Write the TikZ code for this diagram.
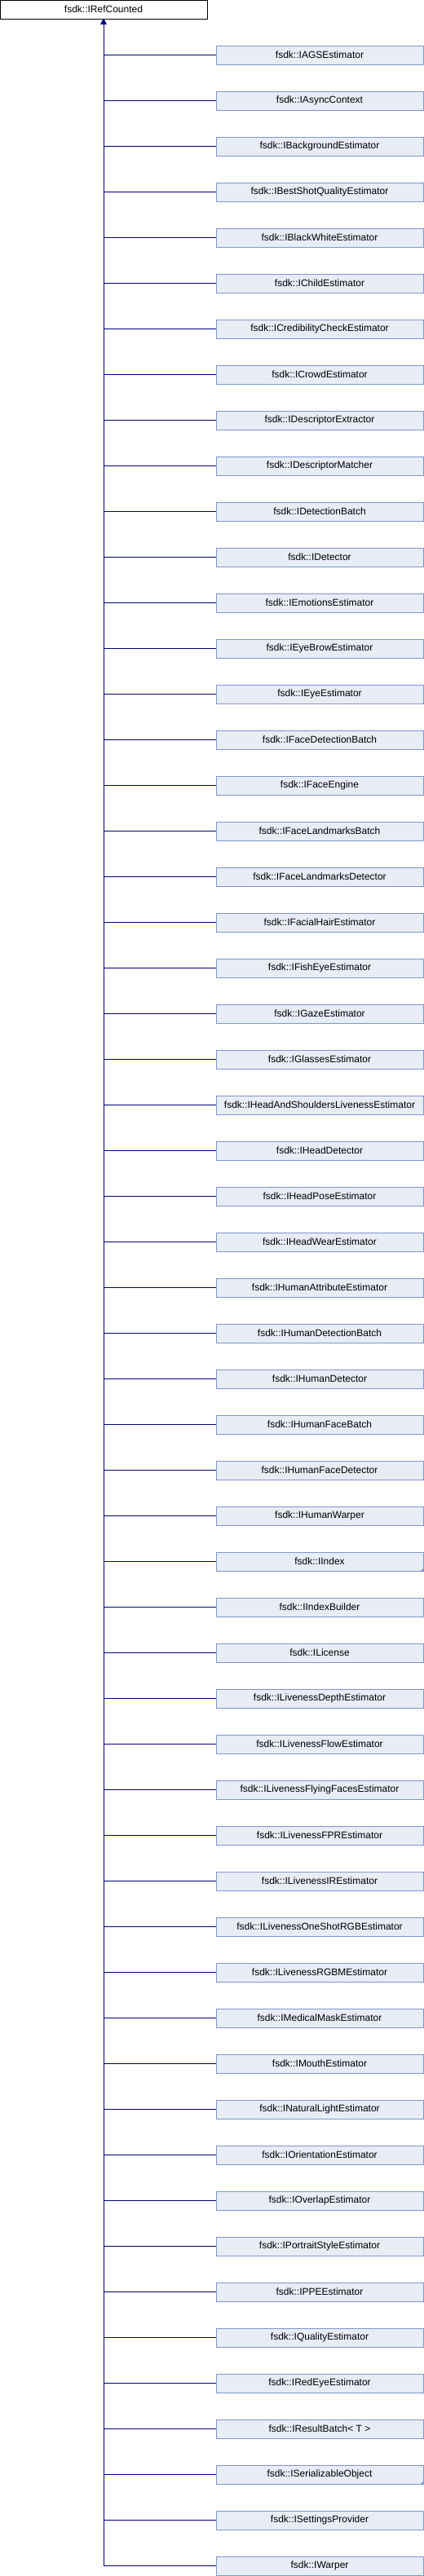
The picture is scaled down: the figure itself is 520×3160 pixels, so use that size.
\documentclass[tikz,border=0pt]{standalone}
\usepackage{fontspec}
\setmainfont{Liberation Sans}
\usetikzlibrary{arrows.meta}
\definecolor{dxfill}{RGB}{232,236,245}
\definecolor{dxborder}{RGB}{128,150,204}
\definecolor{dxline}{RGB}{0,0,128}

\begin{document}
\begin{tikzpicture}[x=0.75pt,y=-0.75pt,
  basebox/.style={draw=black,fill=white,line width=0.75pt,minimum width=190.5pt,minimum height=17.25pt,inner sep=0pt,font=\fontsize{9}{10}\selectfont},
  derivedbox/.style={draw=dxborder,fill=dxfill,line width=0.75pt,minimum width=190.5pt,minimum height=17.25pt,inner sep=0pt,font=\fontsize{9}{10}\selectfont},
  inherit/.style={draw=dxline,line width=0.75pt,-{Triangle[width=4.5pt,length=4.5pt]}}]
\useasboundingbox (0,0) rectangle (520,3160); %Picture size
\node[basebox] (refcounted) at (127,11.5) {fsdk::IRefCounted}; %Base class
\foreach \name [count=\i] in {fsdk::IAGSEstimator,fsdk::IAsyncContext,fsdk::IBackgroundEstimator,
  fsdk::IBestShotQualityEstimator,fsdk::IBlackWhiteEstimator,fsdk::IChildEstimator,
  fsdk::ICredibilityCheckEstimator,fsdk::ICrowdEstimator,fsdk::IDescriptorExtractor,
  fsdk::IDescriptorMatcher,fsdk::IDetectionBatch,fsdk::IDetector,fsdk::IEmotionsEstimator,
  fsdk::IEyeBrowEstimator,fsdk::IEyeEstimator,fsdk::IFaceDetectionBatch,fsdk::IFaceEngine,
  fsdk::IFaceLandmarksBatch,fsdk::IFaceLandmarksDetector,fsdk::IFacialHairEstimator,
  fsdk::IFishEyeEstimator,fsdk::IGazeEstimator,fsdk::IGlassesEstimator,
  fsdk::IHeadAndShouldersLivenessEstimator,fsdk::IHeadDetector,fsdk::IHeadPoseEstimator,
  fsdk::IHeadWearEstimator,fsdk::IHumanAttributeEstimator,fsdk::IHumanDetectionBatch,
  fsdk::IHumanDetector,fsdk::IHumanFaceBatch,fsdk::IHumanFaceDetector,fsdk::IHumanWarper,
  fsdk::IIndex,fsdk::IIndexBuilder,fsdk::ILicense,fsdk::ILivenessDepthEstimator,
  fsdk::ILivenessFlowEstimator,fsdk::ILivenessFlyingFacesEstimator,fsdk::ILivenessFPREstimator,
  fsdk::ILivenessIREstimator,fsdk::ILivenessOneShotRGBEstimator,fsdk::ILivenessRGBMEstimator,
  fsdk::IMedicalMaskEstimator,fsdk::IMouthEstimator,fsdk::INaturalLightEstimator,
  fsdk::IOrientationEstimator,fsdk::IOverlapEstimator,fsdk::IPortraitStyleEstimator,
  fsdk::IPPEEstimator,fsdk::IQualityEstimator,fsdk::IRedEyeEstimator,
  {fsdk::IResultBatch< T >},fsdk::ISerializableObject,fsdk::ISettingsProvider,fsdk::IWarper}
{
  \node[derivedbox] (n\i) at (392,11.5+56*\i) {\name}; %Derived class
  \draw[inherit] (n\i.west) -| (refcounted.south); %Inheritance line
}
\foreach \i in {34,54} %Classes with more derived classes
  \fill[dxborder] (n\i.south east) -- ++(-4,0) -- ++(4,-4) -- cycle;
\end{tikzpicture}
\end{document}
